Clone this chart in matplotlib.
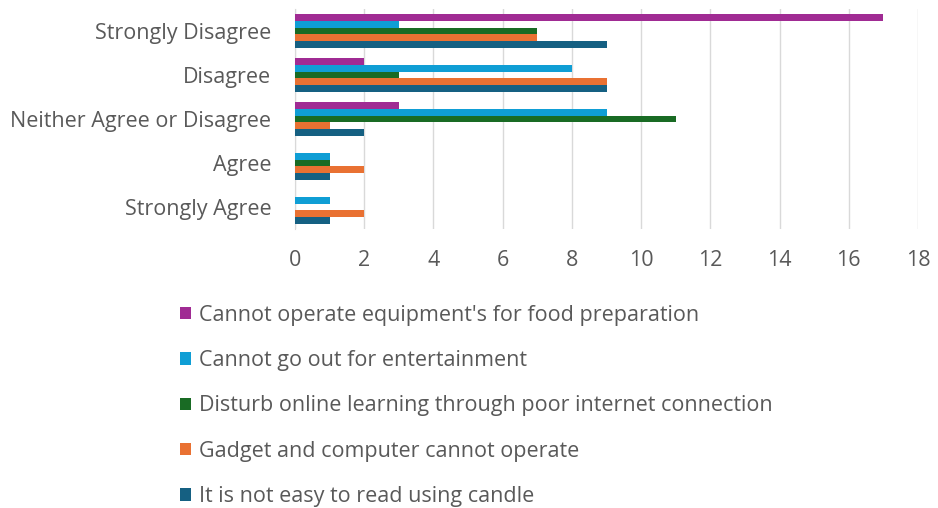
import matplotlib.pyplot as plt
import numpy as np

plt.rcParams['font.family'] = ['Open Sans', 'DejaVu Sans']

categories = ["Strongly Disagree", "Disagree", "Neither Agree or Disagree",
              "Agree", "Strongly Agree"]
series = ["Cannot operate equipment's for food preparation",
          "Cannot go out for entertainment",
          "Disturb online learning through poor internet connection",
          "Gadget and computer cannot operate",
          "It is not easy to read using candle"]
food_prep     = [17, 2, 3, 0, 0]
entertainment = [3, 8, 9, 1, 1]
online        = [7, 3, 11, 1, 0]
gadget        = [7, 9, 1, 2, 2]
candle        = [9, 9, 2, 1, 1]
values = [food_prep, entertainment, online, gadget, candle]
colors = ["#A02B93", "#0F9ED5", "#196B24", "#E97132", "#156082"]

fig = plt.figure(figsize=(9.38, 5.08), dpi=100)
ax = fig.add_axes([295/938, 1 - 229/508, 623/938, 220/508])

# five bars per category, first series on top
y = np.arange(len(categories))
h = 0.155
for i, (vals, c, name) in enumerate(zip(values, colors, series)):
    ax.barh(y + (i - 2) * h, vals, height=h, color=c, label=name, zorder=3)

ax.set_ylim(len(categories) - 0.5, -0.5)
ax.set_xlim(0, 18)
ax.set_xticks(range(0, 19, 2))
ax.set_yticks(y)
ax.set_yticklabels(categories)
ax.tick_params(axis='both', length=0, labelsize=15.5, colors="#595959")
ax.tick_params(axis='x', pad=15)
ax.tick_params(axis='y', pad=17)
ax.grid(axis='x', color="#d9d9d9", linewidth=1, zorder=0)
for s in ["top", "right", "bottom"]:
    ax.spines[s].set_visible(False)
ax.spines["left"].set_color("#d9d9d9")

fig.legend(loc="upper left", bbox_to_anchor=(169/938, 1 - 294/508),
           frameon=False, fontsize=15.5, labelcolor="#595959",
           handlelength=0.5, handleheight=0.5, handletextpad=0.4,
           labelspacing=1.13, borderpad=0)

fig.savefig("out.png", dpi=100)
